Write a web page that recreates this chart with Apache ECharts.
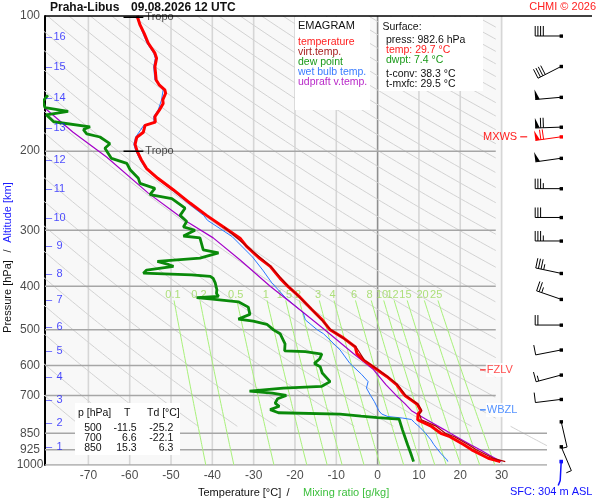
<!DOCTYPE html>
<html>
<head>
<meta charset="utf-8">
<script src="https://cdn.jsdelivr.net/npm/echarts@6/dist/echarts.min.js"></script>
<style>
html,body{margin:0;padding:0;background:#ffffff;}
#chart{width:600px;height:500px;}
</style>
</head>
<body>
<div id="chart"></div>
<script>
// ================= DATA =================
const stationName = 'Praha-Libus';
const dateLabel = '09.08.2026 12 UTC';
const copyrightLabel = 'CHMI © 2026';
const stationAltitude = 304;

const pressureLabels = [100, 200, 300, 400, 500, 600, 700, 850, 925, 1000];
const pressureGridLevels = [200, 300, 400, 500, 600, 700, 850, 925, 1000];
const tempTicks = [-70, -60, -50, -40, -30, -20, -10, 0, 10, 20, 30];
const isotherms = [-70, -60, -50, -40, -30, -20, -10, 0, 10, 20, 30];

const altitudeKm = [1, 2, 3, 4, 5, 6, 7, 8, 9, 10, 11, 12, 13, 14, 15, 16];
const altitudeP  = [910, 808, 716, 637, 558, 492, 429, 376, 325, 281, 243, 209, 178, 152.5, 130, 111.5];

const mixingRatios = [0.1, 0.2, 0.5, 1, 1.5, 2, 3, 4, 6, 8, 10, 12, 15, 20, 25];

// [pressure hPa, temperature °C]
const temperature = [[100,-58.2],[104.7,-57.5],[109.3,-56.5],[115,-55.5],[121,-53.9],[124.2,-53.5],[129.7,-53.9],
  [138.8,-53.6],[142.6,-52.8],[146,-51.5],[148.6,-51.3],[153.8,-52.0],[156.6,-51.9],[161.9,-52.8],[167.5,-53.9],
  [172.3,-53.8],[175.2,-56.3],[181.5,-56.7],[186.4,-58.3],[193.2,-58.7],[200,-58.2],[209,-57.2],[218.6,-55.9],
  [229.9,-53.2],[244,-49.4],[261,-45.4],[278,-41.4],[295,-37.3],[312.5,-33.3],[326,-31.7],[345,-28.8],[361,-26.0],
  [384,-23.6],[400,-21.7],[423,-18.8],[450,-16.0],[475,-13.4],[500,-11.5],[521,-8.3],[546,-5.4],[565,-5.0],
  [584,-3.4],[609,-0.6],[635,2.2],[662,4.6],[685,5.8],[700,6.6],[732,9.6],[757,10.5],[770,9.8],[793,9.7],
  [800,10.5],[818,12.8],[850,15.3],[865,17.5],[900,20.8],[925,22.8],[966,26.8],[982.6,29.7]];

const virtualTemp = [[295,-37.2],[326,-31.6],[361,-25.9],[400,-21.6],[450,-15.9],[500,-11.3],[546,-5.2],[584,-3.2],
  [609,-0.4],[635,2.4],[662,4.8],[700,6.8],[732,9.8],[757,10.7],[770,10.1],[793,10.6],[800,11.6],[818,14.0],
  [850,16.4],[865,18.6],[900,21.9],[925,23.9],[966,28.0],[982.6,30.9]];

const dewPoint = [[150,-79.8],[155,-81],[160,-80.5],[163,-74.9],[166,-80.2],[172,-78.4],[176.5,-69.6],[179,-71.2],
  [183,-70.4],[186,-67.2],[192.5,-64.8],[197,-66.0],[207.6,-64.4],[213,-60.7],[220,-59.9],[229.9,-57.9],[236,-57.5],
  [242,-53.9],[250,-55.1],[255,-49.8],[268,-46.6],[278,-47.8],[287,-46.2],[295,-47.0],[300,-44.2],[309,-47.0],
  [312,-43.0],[332,-42.2],[337,-38.5],[346,-43.0],[352,-53.3],[358,-50.5],[361,-49.4],[368,-55.9],[374,-56.7],
  [377,-45.0],[380,-40.5],[384,-39.8],[393,-39.3],[407,-38.9],[415,-39.0],[421,-38.5],[424,-43.8],[427,-40.0],
  [433,-33.7],[445,-31.3],[462,-30.9],[473,-33.7],[478,-30.1],[486,-26.8],[500,-25.2],[510,-23.6],[537,-22.4],
  [557,-22.5],[559,-17.5],[566,-13.5],[580,-14.0],[594,-15.3],[604,-13.9],[624,-13.4],[652,-11.5],[668,-13.5],
  [674,-22.8],[685,-31.0],[692,-25.5],[700,-22.1],[712,-24.2],[728,-24.8],[740,-23.8],[753,-26.0],[765,-24.0],
  [770,-9.1],[778,-4.0],[784,0.0],[790,5.2],[834,6.0],[850,6.3],[904,7.3],[940,8.0],[982.6,8.7]];

const wetBulb = [[100,-58.4],[109.3,-56.8],[115,-55.8],[121,-54.2],[124.2,-53.8],[129.7,-54.2],[138.8,-53.9],
  [146,-51.9],[153.8,-52.3],[161.9,-53.1],[167.5,-54.2],[172.3,-54.1],[175.2,-56.6],[186.4,-58.6],[193.2,-59.0],
  [200,-58.5],[209,-57.5],[218.6,-56.2],[229.9,-53.5],[244,-49.8],[261,-45.9],[278,-42.1],[285,-41.2],[310,-35.2],
  [344,-30.3],[368,-27.8],[393,-25.6],[423,-22.4],[458,-18.0],[475,-17.5],[500,-14.6],[510,-13.1],[554,-9.1],
  [594,-6.7],[628,-3.9],[652,-2.3],[674,-2.7],[700,-1.7],[722,-0.8],[757,0.3],[770,1.0],[780,2.5],[786,6.0],
  [792,8.2],[804,8.9],[825,10.3],[850,11.6],[879,12.9],[900,13.6],[940,15.2],[974,16.8],[982.6,17.0]];

const updraft = [[150,-84],[162,-80],[181.5,-73.7],[206,-65.6],[248,-55.5],[273,-49.4],[287,-46.2],[312,-39.8],
  [350,-33.2],[400,-26.0],[451,-18.8],[500,-12.8],[565,-5.8],[613,-1.0],[662,2.0],[700,4.5],[730,6.6],[757,8.2],
  [790,11.6],[834,16.1],[850,17.6],[900,22.4],[925,24.8],[950,27.0],[982.6,29.9]];

// wind barbs: [pressure, direction deg, speed kt]
const windBarbs = [[110.8,270,40],[129.5,243,40],[151.7,265,50],[176.8,268,70],[185.8,262,70],[207.4,262,50],
  [242.4,270,35],[281,270,30],[317,270,35],[374.3,282,35],[427.6,289,25],[487.9,270,20],[554.3,259,10],
  [630.3,255,15],[714.2,263,10],[801,167,5],[910.5,157,5]];
const maxWindIndex = 4;
const surfacePressure = 982.6;

const tropoLevels = [[100.7,-58.2],[200,-58.2]];
const fzlvPressure = 614;
const wbzlPressure = 754;

const surfaceInfo = { press: 982.6, temp: 29.7, dwpt: 7.4, tconv: 38.3, tmxfc: 29.5 };
const tableP  = [500, 700, 850];
const tableT  = [-11.5, 6.6, 15.3];
const tableTd = [-25.2, -22.1, 6.3];

// ================= HELPERS =================
const FONT = '"Liberation Sans", Arial, Helvetica, sans-serif';
const XMIN = -80.5, XMAX = 41;
const KAPPA = 0.2857;
function rightLimit(p) { return p < 820 ? 28.6 : XMAX; }
function adiabatT(thC, p) { return (thC + 273.15) * Math.pow(p / 1000, KAPPA) - 273.15; }
function adiabatP(thC, t) { return 1000 * Math.pow((t + 273.15) / (thC + 273.15), 1 / KAPPA); }
function mixTd(w, p) { const e = w * p / (622 + w); const l = Math.log(e / 6.112); return 243.5 * l / (17.67 - l); }
const tp = arr => arr.map(d => [d[1], d[0]]);

const series = [];
function addLine(data, color, width, z, xi) {
  series.push({ type: 'line', xAxisIndex: xi || 0, yAxisIndex: xi || 0, data: data, showSymbol: false, symbol: 'none',
    silent: true, animation: false, z: z, lineStyle: { color: color, width: width }, emphasis: { disabled: true } });
}
function addLabels(data, label, z) {
  series.push({ type: 'scatter', data: data, symbolSize: 0, silent: true, animation: false, z: z || 5,
    label: Object.assign({ show: true, fontFamily: FONT }, label) });
}

// ---- isotherms
isotherms.forEach(t => addLine([[t, 100], [t, 1000]], t === 0 ? '#8f8f8f' : '#d6d6d6', 1.6, 1));
// ---- dry adiabats
for (let th = -80; th <= 320; th += 10) {
  const segs = [];
  const p28 = adiabatP(th, 28.6), p41 = adiabatP(th, XMAX);
  const a0 = 100, a1 = Math.min(p28, 820, 1000);
  if (a1 > a0) segs.push([a0, a1]);
  if (p28 < 820 && p41 > 820) segs.push([820, Math.min(p41, 1000)]);
  segs.forEach(s => {
    const pts = [];
    for (let p = s[0]; p < s[1]; p += 3) { const t = adiabatT(th, p); if (t > -100) pts.push([t, p]); }
    pts.push([adiabatT(th, s[1]), s[1]]);
    if (pts.length > 1) addLine(pts, '#d2d2d2', 1, 1);
  });
}
// ---- pressure lines
pressureGridLevels.forEach(p => addLine([[XMIN, p], [rightLimit(p), p]], '#a6a6a6', 1.5, 1));
// ---- mixing ratio lines
mixingRatios.forEach(w => {
  const pts = [];
  for (let p = 430; p <= 1000; p += 10) pts.push([mixTd(w, p), p]);
  addLine(pts, '#a8f07a', 1, 1);
});
addLabels(mixingRatios.map(w => ({ name: String(w), value: [mixTd(w, 418), 418] })),
  { position: 'inside', formatter: '{b}', color: '#9ad85a', fontSize: 11 }, 2);

// ---- profiles
addLine(tp(wetBulb), '#2a78ff', 1, 3);
addLine(tp(updraft), '#a400c8', 1.2, 3);
addLine(tp(dewPoint), '#0a8a0a', 2.8, 3);
addLine(tp(temperature), '#ff0000', 3, 3);
addLine(tp(virtualTemp), '#b00000', 1.2, 4);

// ---- tropopause markers
tropoLevels.forEach(d => {
  addLine([[d[1] - 3.3, d[0]], [d[1] + 1.5, d[0]]], '#000000', 1.5, 4);
});
addLabels(tropoLevels.map(d => ({ name: 'Tropo', value: [d[1] + 1.5, d[0]] })),
  { position: 'right', distance: 2, formatter: '{b}', color: '#222', fontSize: 11 }, 5);

// ---- FZLV / WBZL
addLine([[24.8, fzlvPressure], [26.2, fzlvPressure]], '#ff2020', 1.2, 4);
addLine([[24.8, wbzlPressure], [26.2, wbzlPressure]], '#2a78ff', 1.2, 4);
addLabels([{ name: 'FZLV', value: [26.2, fzlvPressure] }],
  { position: 'right', distance: 0, formatter: '{b}', color: '#ff2020', fontSize: 11, backgroundColor: '#ffffff', padding: [2, 8, 1, 1] }, 5);
addLabels([{ name: 'WBZL', value: [26.2, wbzlPressure] }],
  { position: 'right', distance: 0, formatter: '{b}', color: '#2a78ff', fontSize: 11, backgroundColor: '#ffffff', padding: [2, 8, 1, 1] }, 5);

// ---- pressure axis labels
addLabels(pressureLabels.map(p => ({ name: String(p), value: [XMIN, p] })),
  { position: 'inside', offset: [-15, 0], align: 'center', formatter: '{b}', color: '#1a1a1a', fontSize: 12 }, 5);
// ---- altitude labels
addLabels(altitudeKm.map((k, i) => ({ name: String(k), value: [XMIN, altitudeP[i]] })),
  { position: 'right', distance: 1, formatter: p => '{d|–}{n|' + p.name + '}',
    rich: { d: { color: '#1c1cff', fontSize: 11, width: 7, fontFamily: FONT },
            n: { color: '#1c1cff', fontSize: 11, width: 13, align: 'center', fontFamily: FONT } } }, 5);
// ---- temperature labels
addLabels(tempTicks.map(t => ({ name: String(t), value: [t, 1000] })),
  { position: 'bottom', distance: 5, formatter: '{b}', color: '#1a1a1a', fontSize: 12 }, 5);

// ---- wind barbs
function renderBarb(params, api) {
  const p = api.value(1), dir = api.value(2), spd = api.value(3), kind = api.value(4);
  const c = api.coord([api.value(0), p]);
  const col = kind === 1 ? '#ff0000' : (kind === 2 ? '#1010ff' : '#000000');
  const kids = [];
  const txt = (s, x, y, align, color) => ({ type: 'text', style: { text: s, x: x, y: y, align: align, textAlign: align,
    verticalAlign: 'middle', textVerticalAlign: 'middle', fill: color, font: '11px ' + FONT } });
  if (kind === 2) {
    kids.push({ type: 'polyline', shape: { points: [[c[0], c[1]], [c[0] - 1, c[1] + 19], [c[0] - 3, c[1] + 24]] },
      style: { stroke: col, lineWidth: 1.5, fill: null } });
    kids.push({ type: 'rect', shape: { x: c[0] - 1.8, y: c[1] - 1.8, width: 3.6, height: 3.6 }, style: { fill: col } });
    kids.push(txt('SFC: ' + stationAltitude + ' m ASL', c[0] - 10, c[1] + 30, 'center', col));
    return { type: 'group', children: kids };
  }
  const rad = dir * Math.PI / 180;
  const u = [Math.sin(rad), -Math.cos(rad)];
  const f = [-u[1], u[0]];
  const L = 26, FL = 10;
  const tip = [c[0] + u[0] * L, c[1] + u[1] * L];
  const at = d => [tip[0] - u[0] * d, tip[1] - u[1] * d];
  const st = { stroke: col, lineWidth: 1 };
  kids.push({ type: 'line', shape: { x1: c[0], y1: c[1], x2: tip[0], y2: tip[1] }, style: st });
  let s = Math.round(spd / 5) * 5, pos = 0;
  while (s >= 50) {
    const a = at(pos), b = at(pos + 4.5);
    kids.push({ type: 'polygon', shape: { points: [a, [a[0] + f[0] * FL, a[1] + f[1] * FL], b] }, style: { fill: col } });
    pos += 5.5; s -= 50;
  }
  while (s >= 10) {
    const a = at(pos);
    kids.push({ type: 'line', shape: { x1: a[0], y1: a[1], x2: a[0] + f[0] * FL, y2: a[1] + f[1] * FL }, style: st });
    pos += 2.7; s -= 10;
  }
  if (s >= 5) {
    const a = at(pos);
    kids.push({ type: 'line', shape: { x1: a[0], y1: a[1], x2: a[0] + f[0] * FL * 0.55, y2: a[1] + f[1] * FL * 0.55 }, style: st });
  }
  kids.push({ type: 'rect', shape: { x: c[0] - 1.6, y: c[1] - 1.6, width: 3.4, height: 3.4 }, style: { fill: col } });
  if (kind === 1) {
    kids.push(txt('MXWS', c[0] - 44, c[1], 'right', '#ff2020'));
    kids.push({ type: 'line', shape: { x1: c[0] - 41, y1: c[1], x2: c[0] - 34, y2: c[1] }, style: { stroke: '#ff2020', lineWidth: 1.2 } });
  }
  return { type: 'group', children: kids };
}
const barbData = windBarbs.map((b, i) => [60, b[0], b[1], b[2], i === maxWindIndex ? 1 : 0]);
barbData.push([60, surfacePressure, 0, 0, 2]);
series.push({ type: 'custom', xAxisIndex: 1, yAxisIndex: 1, data: barbData, renderItem: renderBarb,
  silent: true, animation: false, z: 6, clip: false });

// ================= GRAPHIC (frame, boxes, titles) =================
function gText(x, y, s, color, size, opts) {
  opts = opts || {};
  return { type: 'text', x: x, y: y, rotation: opts.rot || 0, z: 40, silent: true,
    style: { text: s, fill: color, font: (opts.bold ? 'bold ' : '') + size + 'px ' + FONT,
      align: opts.align || 'left', textAlign: opts.align || 'left', verticalAlign: 'middle', textVerticalAlign: 'middle' } };
}
function gRect(x, y, w, h) {
  return { type: 'rect', z: 35, silent: true, shape: { x: x, y: y, width: w, height: h }, style: { fill: '#ffffff' } };
}
const fmt1 = v => v.toFixed(1);
const graphic = [
  { type: 'line', z: 40, silent: true, shape: { x1: 45, y1: 16, x2: 592, y2: 16 }, style: { stroke: '#000', lineWidth: 1.6 } },
  gText(50, 8, stationName, '#111', 12, { bold: true }),
  gText(131, 8, dateLabel, '#111', 12, { bold: true }),
  gText(596, 7, copyrightLabel, '#ff2020', 11, { align: 'right' }),
  // legend box
  gRect(295, 17, 75, 93),
  gText(298, 26, 'EMAGRAM', '#111', 11),
  gText(298, 41.7, 'temperature', '#ff2020', 10.5),
  gText(298, 51.7, 'virt.temp.', '#a82020', 10.5),
  gText(298, 61.7, 'dew point', '#1a9a1a', 10.5),
  gText(298, 71.7, 'wet bulb temp.', '#3a7cff', 10.5),
  gText(298, 81.7, 'udpraft v.temp.', '#b828c8', 10.5),
  // surface box
  gRect(379, 17, 104, 74),
  gText(382.5, 27.3, 'Surface:', '#111', 10.5),
  gText(386, 40, 'press: ' + fmt1(surfaceInfo.press) + ' hPa', '#111', 10.5),
  gText(386, 50, 'temp: ' + fmt1(surfaceInfo.temp) + ' °C', '#ff2020', 10.5),
  gText(386, 60, 'dwpt: ' + fmt1(surfaceInfo.dwpt) + ' °C', '#1a9a1a', 10.5),
  gText(386, 74.3, 't-conv: ' + fmt1(surfaceInfo.tconv) + ' °C', '#111', 10.5),
  gText(386, 84.3, 't-mxfc: ' + fmt1(surfaceInfo.tmxfc) + ' °C', '#111', 10.5),
  // table box
  gRect(75, 403, 105, 52),
  gText(78, 413.3, 'p [hPa]', '#111', 10.5),
  gText(127.3, 413.3, 'T', '#111', 10.5, { align: 'center' }),
  gText(147, 413.3, 'Td [°C]', '#111', 10.5),
  // axis titles
  gText(198, 493, 'Temperature [°C]', '#111', 11),
  gText(288, 493, '/', '#111', 11, { align: 'center' }),
  gText(303, 493, 'Mixing ratio [g/kg]', '#3cbf3c', 11),
  gText(8, 296.5, 'Pressure [hPa]', '#111', 11, { align: 'center', rot: Math.PI / 2 }),
  gText(8, 251, '/', '#111', 11, { align: 'center', rot: Math.PI / 2 }),
  gText(8, 212.5, 'Altitude [km]', '#1c1cff', 11, { align: 'center', rot: Math.PI / 2 })
];
tableP.forEach((p, i) => {
  const y = 428.3 + i * 10;
  graphic.push(gText(101.7, y, String(p), '#111', 10.5, { align: 'right' }));
  graphic.push(gText(136.7, y, fmt1(tableT[i]), '#111', 10.5, { align: 'right' }));
  graphic.push(gText(173.3, y, fmt1(tableTd[i]), '#111', 10.5, { align: 'right' }));
});

// ================= CHART =================
const chart = echarts.init(document.getElementById('chart'), null, { renderer: 'canvas' });
chart.setOption({
  animation: false,
  backgroundColor: '#ffffff',
  grid: [
    { left: 45, right: 53, top: 16, bottom: 35, show: true, backgroundColor: '#f8f8f8', borderWidth: 0 },
    { left: 503, right: 0, top: 16, bottom: 35, show: true, backgroundColor: '#ffffff', borderWidth: 0 }
  ],
  xAxis: [
    { type: 'value', gridIndex: 0, min: XMIN, max: XMAX, axisLine: { show: false, onZero: false }, axisTick: { show: false },
      axisLabel: { show: false }, splitLine: { show: false } },
    { type: 'value', gridIndex: 1, min: 0, max: 100, show: false }
  ],
  yAxis: [
    { type: 'log', logBase: 10, gridIndex: 0, min: 100, max: 1000, inverse: true,
      axisLine: { show: true, onZero: false, lineStyle: { color: '#000', width: 2 } },
      axisTick: { show: false }, axisLabel: { show: false }, splitLine: { show: false } },
    { type: 'log', logBase: 10, gridIndex: 1, min: 100, max: 1000, inverse: true, show: false }
  ],
  series: series,
  graphic: { elements: graphic }
});
</script>
</body>
</html>
